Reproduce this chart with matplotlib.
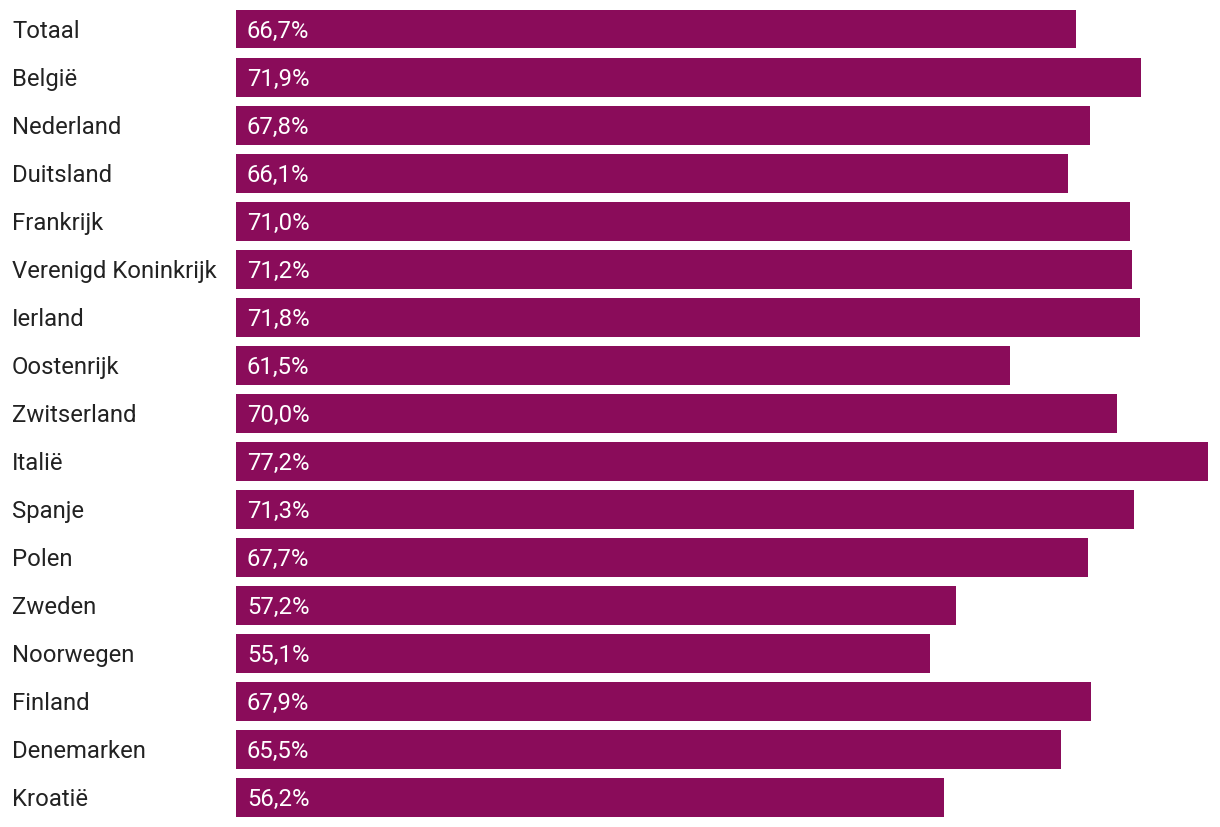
import matplotlib
matplotlib.use("Agg")
import matplotlib.pyplot as plt

categories = ["Totaal", "België", "Nederland", "Duitsland", "Frankrijk",
              "Verenigd Koninkrijk", "Ierland", "Oostenrijk", "Zwitserland",
              "Italië", "Spanje", "Polen", "Zweden", "Noorwegen", "Finland",
              "Denemarken", "Kroatië"]
values = [66.7, 71.9, 67.8, 66.1, 71.0, 71.2, 71.8, 61.5, 70.0, 77.2,
          71.3, 67.7, 57.2, 55.1, 67.9, 65.5, 56.2]

plt.rcParams['font.family'] = ['Roboto', 'DejaVu Sans']
W, H = 1220, 828
fig = plt.figure(figsize=(W / 100, H / 100), dpi=100)
top, bottom = 6.0, 822.8
ax = fig.add_axes([236 / W, 1 - bottom / H, (1208 - 236) / W, (bottom - top) / H])

color = "#8A0C5A"
y = list(range(len(categories)))
ax.barh(y, values, height=0.81, color=color)
ax.set_xlim(0, max(values))
ax.set_ylim(len(categories) - 0.5, -0.5)
ax.axis("off")

for yi, (cat, v) in enumerate(zip(categories, values)):
    ax.annotate(cat, xy=(0, yi), xytext=(-224, -1), textcoords="offset pixels",
                ha="left", va="center", fontsize=17.2, color="#222222")
    ax.annotate(f"{v:.1f}%".replace(".", ","), xy=(0, yi), xytext=(11, -1),
                textcoords="offset pixels", ha="left", va="center",
                fontsize=17.2, color="white")

fig.savefig("out.png", dpi=100)
